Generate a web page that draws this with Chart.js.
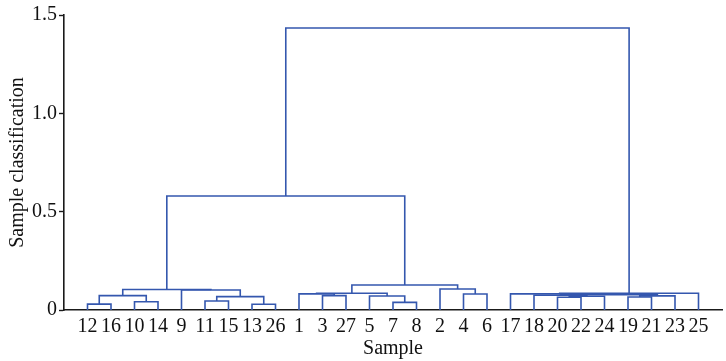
<!DOCTYPE html>
<html>
<head>
<meta charset="utf-8">
<script src="https://cdn.jsdelivr.net/npm/chart.js@4.4.0/dist/chart.umd.min.js"></script>
<style>
  html, body { margin: 0; padding: 0; background: #fff; }
  #wrap { width: 726px; height: 361px; }
</style>
</head>
<body>
<div id="wrap"><canvas id="dendro"></canvas></div>
<script>
// leaf order along the x axis
const LEAVES = [12, 16, 10, 14, 9, 11, 15, 13, 26, 1, 3, 27, 5, 7, 8, 2, 4, 6, 17, 18, 20, 22, 24, 19, 21, 23, 25];
// linkage, matlab style: ids 1..27 are samples, 28.. are the merged clusters in row order
const LINK_LEFT   = [12, 13, 7, 10, 11, 20, 19, 32, 33, 5, 34, 28, 3, 18, 41, 4, 1, 17, 44, 45, 9, 39, 2, 46, 49, 52];
const LINK_RIGHT  = [16, 26, 8, 14, 15, 22, 21, 29, 24, 30, 23, 31, 27, 36, 38, 6, 40, 42, 37, 25, 35, 48, 43, 50, 51, 47];
const LINK_HEIGHT = [0.030, 0.029, 0.039, 0.042, 0.046, 0.065, 0.066, 0.068, 0.070, 0.071, 0.072, 0.073, 0.073,
                     0.075, 0.078, 0.081, 0.082, 0.082, 0.085, 0.085, 0.102, 0.104, 0.107, 0.127, 0.580, 1.434];
const Y_TICKS = [0, 0.5, 1.0, 1.5];

const N = LEAVES.length;
const LINE_COLOR = "#3457ae";
const FONT = "'Liberation Serif', 'Times New Roman', serif";

// x (leaf slot) and height of every node
var nodeX = {}, nodeH = {};
LEAVES.forEach((id, i) => { nodeX[id] = i + 1; nodeH[id] = 0; });

var links = [];
for (let k = 0; k < LINK_LEFT.length; k++) {
    let a = LINK_LEFT[k], b = LINK_RIGHT[k], h = LINK_HEIGHT[k];
    let id = N + 1 + k;
    nodeX[id] = (nodeX[a] + nodeX[b]) / 2;
    nodeH[id] = h;
    links.push({
        data: [
            {x: nodeX[a], y: nodeH[a]},
            {x: nodeX[a], y: h},
            {x: nodeX[b], y: h},
            {x: nodeX[b], y: nodeH[b]}
        ],
        showLine: true,
        borderColor: LINE_COLOR,
        borderWidth: 1.6,
        pointRadius: 0,
        tension: 0
    });
}

var ctx = document.getElementById("dendro").getContext("2d");
var chart = new Chart(ctx, {
    type: "scatter",
    data: { datasets: links },
    options: {
        responsive: true,
        maintainAspectRatio: false,
        animation: false,
        layout: { padding: { top: 15, right: 4, left: 0, bottom: 0 } },
        plugins: { legend: { display: false }, tooltip: { enabled: false } },
        scales: {
            x: {
                type: "linear",
                min: 0,
                max: N + 1,
                afterBuildTicks: s => { s.ticks = LEAVES.map((_, i) => ({ value: i + 1 })); },
                afterFit: s => { s.height = 51; },
                ticks: {
                    autoSkip: false,
                    maxRotation: 0,
                    padding: 5,
                    color: "#111",
                    font: { family: FONT, size: 20 },
                    callback: v => LEAVES[v - 1] !== undefined ? String(LEAVES[v - 1]) : ""
                },
                grid: { drawOnChartArea: false, drawTicks: false },
                border: { display: true, color: "#1a1a1a", width: 1.6 },
                title: {
                    display: true,
                    text: "Sample",
                    color: "#111",
                    font: { family: FONT, size: 20 },
                    padding: { top: 0, bottom: 0 }
                }
            },
            y: {
                min: 0,
                max: 1.5,
                afterBuildTicks: s => { s.ticks = Y_TICKS.map(v => ({ value: v })); },
                afterFit: s => { s.width = 64; },
                ticks: {
                    padding: 2,
                    color: "#111",
                    font: { family: FONT, size: 20 },
                    callback: v => v === 0 ? "0" : v.toFixed(1)
                },
                grid: { drawOnChartArea: false, drawTicks: true, tickLength: 5, tickColor: "#1a1a1a", tickWidth: 1.4 },
                border: { display: true, color: "#1a1a1a", width: 1.6 },
                title: {
                    display: true,
                    text: "Sample classification",
                    color: "#111",
                    font: { family: FONT, size: 20 },
                    padding: { top: 6, bottom: 0 }
                }
            }
        }
    }
});
</script>
</body>
</html>
